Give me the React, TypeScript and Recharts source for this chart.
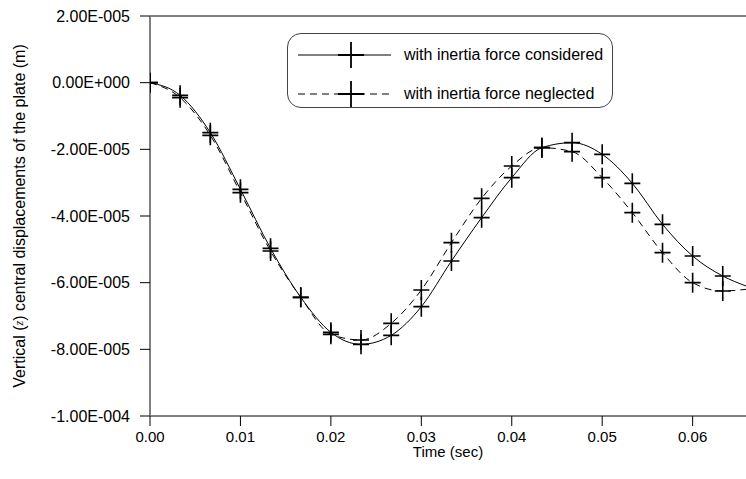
import React from "react";
import { LineChart, Line, XAxis, YAxis, ReferenceLine, Legend, Label } from "recharts";

// time (sec); markers every 1/300 s, last point is the curve end at the right edge
const times = [
  0, 0.00333, 0.00667, 0.01, 0.01333, 0.01667, 0.02, 0.02333, 0.02667, 0.03, 0.03333,
  0.03667, 0.04, 0.04333, 0.04667, 0.05, 0.05333, 0.05667, 0.06, 0.06333, 0.0659,
];

// vertical displacement, in units of 1E-005 m
const considered = [
  0, -0.38, -1.5, -3.2, -4.97, -6.44, -7.49, -7.85, -7.58, -6.72, -5.35,
  -4.05, -2.85, -1.95, -1.8, -2.15, -3.02, -4.25, -5.2, -5.8, -6.1,
];
const neglected = [
  0, -0.45, -1.58, -3.3, -5.05, -6.44, -7.55, -7.72, -7.22, -6.22, -4.8,
  -3.47, -2.5, -1.95, -2.07, -2.85, -3.9, -5.1, -6.0, -6.25, -6.2,
];

const xTicks = [0, 0.01, 0.02, 0.03, 0.04, 0.05, 0.06];
const yTicks = [2, 0, -2, -4, -6, -8, -10];
const yTickLabels = [
  "2.00E-005",
  "0.00E+000",
  "-2.00E-005",
  "-4.00E-005",
  "-6.00E-005",
  "-8.00E-005",
  "-1.00E-004",
];

const seriesNames = ["with inertia force considered", "with inertia force neglected"];

const data = times.map((t, i) => ({ t, considered: considered[i], neglected: neglected[i] }));

const FONT = "'Liberation Sans', Arial, sans-serif";
const DASH = "7 5";

const crossDot = (props: any) => {
  const { cx, cy, index } = props;
  if (index >= times.length - 1 || cx == null || cy == null) return <g key={`d${index}`} />;
  return (
    <path
      key={`d${index}`}
      d={`M${cx - 8},${cy}H${cx + 8}M${cx},${cy - 10}V${cy + 10}`}
      stroke="#000"
      strokeWidth={1.6}
      fill="none"
    />
  );
};

function LegendBox() {
  const rows = [
    { name: seriesNames[0], dash: undefined },
    { name: seriesNames[1], dash: DASH },
  ];
  return (
    <div
      style={{
        width: 324,
        height: 73,
        border: "1px solid #444",
        borderRadius: 14,
        background: "#fff",
        position: "relative",
        fontFamily: FONT,
      }}
    >
      {rows.map((r, i) => (
        <div
          key={r.name}
          style={{ position: "absolute", left: 8, top: i === 0 ? 7 : 46, height: 28, display: "flex", alignItems: "center" }}
        >
          <svg width={100} height={28} style={{ display: "block" }}>
            <line x1={2} y1={14} x2={95} y2={14} stroke="#000" strokeWidth={1} strokeDasharray={r.dash} />
            <path d="M42,14H68M55,1V27" stroke="#000" strokeWidth={1.8} fill="none" />
          </svg>
          <span style={{ marginLeft: 8, fontSize: 16, color: "#000", whiteSpace: "nowrap" }}>{r.name}</span>
        </div>
      ))}
    </div>
  );
}

const YLabel = (props: any) => {
  const vb = props.viewBox || { x: 0, y: 16, width: 150, height: 400 };
  const x = vb.x + 19;
  const y = vb.y + vb.height / 2;
  return (
    <text
      x={x}
      y={y}
      transform={`rotate(-90, ${x}, ${y})`}
      textAnchor="middle"
      dominantBaseline="central"
      fontFamily={FONT}
      fontSize={16}
      fill="#000"
    >
      Vertical (<tspan fontStyle="italic" fontFamily="'Liberation Serif', serif" fontSize={12}>z</tspan>) central displacements of the plate (m)
    </text>
  );
};

export default function App() {
  return (
    <div style={{ position: "absolute", left: 0, top: 0, width: 746, height: 479, background: "#fff" }}>
      <LineChart width={746} height={479} data={data} margin={{ top: 16, right: 0, bottom: 0, left: 0 }}>
        <XAxis
          dataKey="t"
          type="number"
          domain={[0, 0.0659]}
          ticks={xTicks}
          allowDataOverflow
          height={63}
          tickSize={10}
          tickMargin={5}
          axisLine={{ stroke: "#000", strokeWidth: 1 }}
          tickLine={{ stroke: "#000" }}
          tick={{ fill: "#000", fontSize: 15, fontFamily: FONT }}
          tickFormatter={(v: number) => v.toFixed(2)}
        >
          <Label value="Time (sec)" position="insideBottom" offset={22} fill="#000" fontSize={15} fontFamily={FONT} />
        </XAxis>
        <YAxis
          type="number"
          domain={[-10, 2]}
          ticks={yTicks}
          width={150}
          tickSize={10}
          tickMargin={10}
          axisLine={{ stroke: "#808080", strokeWidth: 2 }}
          tickLine={{ stroke: "#000" }}
          tick={{ fill: "#000", fontSize: 16, fontFamily: FONT }}
          tickFormatter={(v: number) => yTickLabels[yTicks.indexOf(v)]}
        >
          <Label content={YLabel} />
        </YAxis>
        <ReferenceLine y={2} stroke="#000" strokeWidth={1} />
        <Legend
          verticalAlign="middle"
          align="center"
          content={() => <LegendBox />}
          wrapperStyle={{ left: 287, top: 33, width: 326 }}
        />
        <Line
          type="monotone"
          dataKey="considered"
          name={seriesNames[0]}
          stroke="#000"
          strokeWidth={1}
          dot={crossDot}
          activeDot={false}
          isAnimationActive={false}
        />
        <Line
          type="monotone"
          dataKey="neglected"
          name={seriesNames[1]}
          stroke="#000"
          strokeWidth={1}
          strokeDasharray={DASH}
          dot={crossDot}
          activeDot={false}
          isAnimationActive={false}
        />
      </LineChart>
    </div>
  );
}
